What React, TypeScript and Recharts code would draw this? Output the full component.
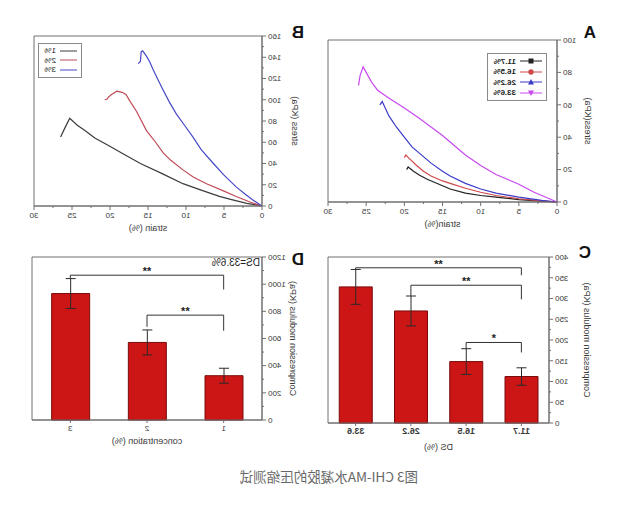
import React from 'react'
import {
  LineChart, Line, BarChart, Bar, ErrorBar, XAxis, YAxis, ReferenceLine, ReferenceArea, Legend,
} from 'recharts'

// the source figure is a horizontally mirrored image, so the whole sheet is flipped at the end
const FONT = '"Liberation Sans", Arial, sans-serif'
const AXIS = '#707070'
const TXT = '#3a3a3a'
const BAR = '#cc1616'
const BAR_EDGE = '#7a0a0a'

// ---- A: stress-strain, four DS values
const A_SERIES = ['11.7%', '16.5%', '26.2%', '33.6%']
const A_COLORS = ['#222222', '#d04848', '#3a3ac8', '#c848f0']
const A_117 = [
  { s: 0, p: 0 }, { s: 2, p: 0.6 }, { s: 5, p: 1.5 }, { s: 8, p: 3 }, { s: 10, p: 4 }, { s: 12, p: 5.5 },
  { s: 14, p: 8 }, { s: 15, p: 10 }, { s: 16, p: 12 }, { s: 17, p: 14 }, { s: 18, p: 16.5 },
  { s: 18.8, p: 19 }, { s: 19.5, p: 21.6 }, { s: 19.7, p: 20 },
]
const A_165 = [
  { s: 0, p: 0 }, { s: 2, p: 0.7 }, { s: 5, p: 2 }, { s: 8, p: 4 }, { s: 10, p: 6 }, { s: 12, p: 8.5 },
  { s: 14, p: 11.5 }, { s: 15, p: 13 }, { s: 16.5, p: 16 }, { s: 17.5, p: 19 }, { s: 18.5, p: 23 },
  { s: 19.5, p: 27.5 }, { s: 19.8, p: 29 }, { s: 20, p: 27.3 },
]
const A_262 = [
  { s: 0, p: 0 }, { s: 2, p: 1 }, { s: 5, p: 3 }, { s: 8, p: 5.5 }, { s: 10, p: 8 }, { s: 12, p: 11.5 },
  { s: 14, p: 16 }, { s: 15, p: 19 }, { s: 16.5, p: 24 }, { s: 18, p: 30 }, { s: 19, p: 34 },
  { s: 20, p: 40 }, { s: 21, p: 46 }, { s: 22, p: 53 }, { s: 22.9, p: 62 }, { s: 23.2, p: 60 },
]
const A_336 = [
  { s: 0, p: 0 }, { s: 1, p: 2 }, { s: 3, p: 6 }, { s: 5, p: 11 }, { s: 8, p: 17 }, { s: 10, p: 22.5 },
  { s: 12, p: 29 }, { s: 14, p: 37 }, { s: 15, p: 41 }, { s: 17, p: 48 }, { s: 18, p: 51.5 },
  { s: 20, p: 58 }, { s: 22, p: 64 }, { s: 23.5, p: 69 }, { s: 24.3, p: 74 }, { s: 25, p: 80 },
  { s: 25.4, p: 83.5 }, { s: 25.8, p: 78 }, { s: 26, p: 72 },
]
const A_DATA = [A_117, A_165, A_262, A_336]

// ---- B: stress-strain, three concentrations
const B_SERIES = ['1%', '2%', '3%']
const B_COLORS = ['#3c3c3c', '#c04a58', '#4848c8']
const B_1 = [
  { s: 0, p: 0 }, { s: 2, p: 2.5 }, { s: 4, p: 6 }, { s: 5.6, p: 9 }, { s: 8, p: 15 }, { s: 10.4, p: 21 },
  { s: 13, p: 30 }, { s: 16, p: 40 }, { s: 18, p: 48 }, { s: 20.2, p: 57 }, { s: 22, p: 64 },
  { s: 23.3, p: 71 }, { s: 24.3, p: 76 }, { s: 25.3, p: 82.5 }, { s: 25.9, p: 74 }, { s: 26.5, p: 65 },
]
const B_2 = [
  { s: 0, p: 0 }, { s: 1.5, p: 3.5 }, { s: 3.4, p: 9 }, { s: 5, p: 14 }, { s: 7.3, p: 21 }, { s: 9, p: 27 },
  { s: 10.4, p: 34 }, { s: 12, p: 43 }, { s: 13, p: 50 }, { s: 14, p: 60 }, { s: 15.2, p: 71 },
  { s: 16.5, p: 89 }, { s: 17.4, p: 99 }, { s: 17.9, p: 105 }, { s: 18.4, p: 107 }, { s: 19.1, p: 108 },
  { s: 19.8, p: 105 }, { s: 20.2, p: 102.5 }, { s: 20.4, p: 100.5 }, { s: 20.7, p: 100 },
]
const B_3 = [
  { s: 0, p: 0 }, { s: 1.2, p: 5.6 }, { s: 2.2, p: 11 }, { s: 3.4, p: 18 }, { s: 5, p: 29 }, { s: 6.4, p: 40 },
  { s: 8, p: 53 }, { s: 9.1, p: 65 }, { s: 10.2, p: 76 }, { s: 11.3, p: 87 }, { s: 12.2, p: 98 },
  { s: 13, p: 109 }, { s: 13.7, p: 119 }, { s: 14.3, p: 128 }, { s: 14.8, p: 136 }, { s: 15.2, p: 141 },
  { s: 15.7, p: 146 }, { s: 15.9, p: 145 }, { s: 16, p: 136 }, { s: 16.3, p: 134 },
]
const B_DATA = [B_1, B_2, B_3]

// ---- C: modulus vs DS
const C_DS = ['11.7', '16.5', '26.2', '33.6']
const C_MOD = [112, 148, 270, 328]
const C_ERR = [21, 31, 36, 42]
const C_SIG = [
  { from: '11.7', to: '33.6', y: 374, yFrom: 356, yTo: 370, mark: '**' },
  { from: '11.7', to: '26.2', y: 332, yFrom: 298, yTo: 306, mark: '**' },
  { from: '11.7', to: '16.5', y: 194, yFrom: 170, yTo: 178, mark: '*' },
]

// ---- D: modulus vs concentration
const D_CONC = ['1', '2', '3']
const D_MOD = [326, 571, 931]
const D_ERR = [55, 92, 110]
const D_SIG = [
  { from: '1', to: '3', y: 1066, yFrom: 961, yTo: 1042, mark: '**' },
  { from: '1', to: '2', y: 772, yFrom: 657, yTo: 686, mark: '**' },
]

// ticks (all = with minor ticks, labels = labelled majors)
const STRAIN_TICKS = [0, 2.5, 5, 7.5, 10, 12.5, 15, 17.5, 20, 22.5, 25, 27.5, 30]
const STRAIN_LABELS = [0, 5, 10, 15, 20, 25, 30]
const A_Y_TICKS = [0, 10, 20, 30, 40, 50, 60, 70, 80, 90, 100]
const A_Y_LABELS = [0, 20, 40, 60, 80, 100]
const B_Y_TICKS = [0, 10, 20, 30, 40, 50, 60, 70, 80, 90, 100, 110, 120, 130, 140, 150, 160]
const B_Y_LABELS = [0, 20, 40, 60, 80, 100, 120, 140, 160]
const C_Y_TICKS = [0, 25, 50, 75, 100, 125, 150, 175, 200, 225, 250, 275, 300, 325, 350, 375, 400]
const C_Y_LABELS = [0, 50, 100, 150, 200, 250, 300, 350, 400]
const D_Y_TICKS = [0, 100, 200, 300, 400, 500, 600, 700, 800, 900, 1000, 1100, 1200]
const D_Y_LABELS = [0, 200, 400, 600, 800, 1000, 1200]

const TICK = 4
const GAP = 2

function YTick(props: any) {
  const { x, y, payload, labels } = props
  const v = payload.value
  const major = labels.includes(v)
  const ax = x + TICK + GAP
  return (
    <g>
      <line x1={ax} x2={ax - (major ? TICK : TICK / 2)} y1={y} y2={y} stroke={AXIS} />
      {major && (
        <text x={x} y={y} dy="0.35em" textAnchor="end" fontSize={8} fontFamily={FONT} fill={TXT}>{v}</text>
      )}
    </g>
  )
}

function XTick(props: any) {
  const { x, y, payload, labels } = props
  const v = payload.value
  const major = labels.includes(v)
  const ay = y - TICK - GAP
  return (
    <g>
      <line x1={x} x2={x} y1={ay} y2={ay + (major ? TICK : TICK / 2)} stroke={AXIS} />
      {major && (
        <text x={x} y={y} dy="0.75em" textAnchor="middle" fontSize={8} fontFamily={FONT} fill={TXT}>{v}</text>
      )}
    </g>
  )
}

function Marker({ kind, color, cx }: { kind: string; color: string; cx: number }) {
  if (kind === 'square') return <rect x={cx - 2.5} y={1.5} width={5} height={5} fill={color} />
  if (kind === 'circle') return <circle cx={cx} cy={4} r={2.7} fill={color} />
  if (kind === 'up') return <polygon points={`${cx - 3},6.5 ${cx + 3},6.5 ${cx},1`} fill={color} />
  if (kind === 'down') return <polygon points={`${cx - 3},1.5 ${cx + 3},1.5 ${cx},7`} fill={color} />
  return null
}

function LegendBox({ payload, markers, lineW, rowH, bold }: any) {
  return (
    <div style={{ border: '1px solid #8a8a8a', background: '#fff', padding: '2px 5px 2px 4px', fontFamily: FONT, fontSize: 8 }}>
      {(payload ?? []).map((e: any, i: number) => (
        <div key={e.value} style={{ display: 'flex', alignItems: 'center', height: rowH }}>
          <svg width={lineW} height={8}>
            <line x1={0} x2={lineW} y1={4} y2={4} stroke={e.color} strokeWidth={1} />
            {markers && <Marker kind={markers[i]} color={e.color} cx={lineW / 2} />}
          </svg>
          <span style={{ marginLeft: 4, color: '#222', fontWeight: bold ? 'bold' : 'normal' }}>{e.value}</span>
        </div>
      ))}
    </div>
  )
}

function brackets(list: typeof C_SIG) {
  return list.flatMap((b, i) => [
    <ReferenceLine
      key={`h${i}`}
      segment={[{ x: b.from, y: b.y }, { x: b.to, y: b.y }]}
      stroke="#333"
      label={{ value: b.mark, position: 'top', offset: 0, fontSize: 11, fontWeight: 'bold', fill: '#222' }}
    />,
    <ReferenceLine key={`a${i}`} segment={[{ x: b.from, y: b.y }, { x: b.from, y: b.yFrom }]} stroke="#333" />,
    <ReferenceLine key={`b${i}`} segment={[{ x: b.to, y: b.y }, { x: b.to, y: b.yTo }]} stroke="#333" />,
  ])
}

const labelStyle = { fontSize: 9, fill: TXT, fontFamily: FONT }

function StrainChart({ data, names, colors, yTicks, yLabels, yMax, width, margin, yWidth, yLabel, yLabelX, xLabel, legend }: any) {
  return (
    <LineChart width={width} height={240} margin={margin}>
      {/* frame */}
      <ReferenceArea x1={0} x2={30} y1={0} y2={yMax} fill="none" stroke={AXIS} strokeWidth={1} fillOpacity={0} />
      <XAxis
        dataKey="s" type="number" domain={[0, 30]} ticks={STRAIN_TICKS} interval={0}
        stroke={AXIS} tickLine={false} tickSize={TICK} tickMargin={GAP} height={32}
        tick={(p: any) => <XTick {...p} labels={STRAIN_LABELS} />}
        label={{ value: xLabel, position: 'insideBottom', offset: 7, ...labelStyle }}
      />
      <YAxis
        type="number" domain={[0, yMax]} ticks={yTicks} interval={0} width={yWidth}
        stroke={AXIS} tickLine={false} tickSize={TICK} tickMargin={GAP}
        tick={(p: any) => <YTick {...p} labels={yLabels} />}
        label={{ value: yLabel, angle: -90, position: 'insideLeft', offset: yLabelX, style: { textAnchor: 'middle' }, ...labelStyle }}
      />
      {data.map((d: any, i: number) => (
        <Line
          key={names[i]} data={d} dataKey="p" name={names[i]} stroke={colors[i]} strokeWidth={1.2}
          dot={false} isAnimationActive={false}
        />
      ))}
      {legend}
    </LineChart>
  )
}

function ModulusChart({ rows, keyName, cats, sig, yTicks, yLabels, yMax, width, margin, yWidth, yLabelX, xLabel, xLabelOffset, barSize, tickBold }: any) {
  return (
    <BarChart width={width} height={240} data={rows} margin={margin}>
      <ReferenceArea x1={cats[0]} x2={cats[cats.length - 1]} y1={0} y2={yMax} fill="none" fillOpacity={0} stroke={AXIS} strokeWidth={1} />
      <XAxis
        dataKey={keyName} stroke={AXIS} tickSize={3} tickMargin={2} height={36} interval={0}
        tickLine={{ stroke: AXIS }}
        tick={{ fontSize: tickBold ? 9 : 8, fontWeight: tickBold ? 'bold' : 'normal', fill: TXT, fontFamily: FONT }}
        label={{ value: xLabel, position: 'insideBottom', offset: xLabelOffset, ...labelStyle }}
      />
      <YAxis
        type="number" domain={[0, yMax]} ticks={yTicks} interval={0} width={yWidth}
        stroke={AXIS} tickLine={false} tickSize={TICK} tickMargin={GAP}
        tick={(p: any) => <YTick {...p} labels={yLabels} />}
        label={{ value: 'Compression modulus (KPa)', angle: -90, position: 'insideLeft', offset: yLabelX, style: { textAnchor: 'middle' }, ...labelStyle }}
      />
      <Bar dataKey="mod" fill={BAR} stroke={BAR_EDGE} strokeWidth={1} barSize={barSize} isAnimationActive={false}>
        <ErrorBar dataKey="err" width={5} stroke="#2a2a2a" strokeWidth={1} isAnimationActive={false} />
      </Bar>
      {brackets(sig)}
    </BarChart>
  )
}

const panelLetter = (txt: string, left: number, top: number) => (
  <div style={{ position: 'absolute', left, top, fontFamily: FONT, fontWeight: 'bold', fontSize: 17, color: '#111' }}>{txt}</div>
)

export default function App() {
  const cRows = C_DS.map((ds, i) => ({ ds, mod: C_MOD[i], err: C_ERR[i] }))
  const dRows = D_CONC.map((c, i) => ({ c, mod: D_MOD[i], err: D_ERR[i] }))

  return (
    <div style={{
      position: 'absolute', left: 0, top: 0, width: 619, height: 509, background: '#fff',
      overflow: 'hidden', transform: 'scaleX(-1)', fontFamily: FONT,
    }}>
      {/* A */}
      <div style={{ position: 'absolute', left: 0, top: 0 }}>
        <StrainChart
          data={A_DATA} names={A_SERIES} colors={A_COLORS} yTicks={A_Y_TICKS} yLabels={A_Y_LABELS} yMax={100}
          width={300} margin={{ top: 40, right: 9, left: 0, bottom: 6 }} yWidth={62}
          yLabel="stress(KPa)" yLabelX={31} xLabel="strain(%)"
          legend={
            <Legend
              layout="vertical" align="center" verticalAlign="middle"
              wrapperStyle={{ left: 72, top: 53, width: 'auto', height: 'auto' }}
              content={(p: any) => <LegendBox payload={p.payload} markers={['square', 'circle', 'up', 'down']} lineW={22} rowH={10.5} bold />}
            />
          }
        />
      </div>
      {panelLetter('A', 23, 23)}

      {/* B */}
      <div style={{ position: 'absolute', left: 300, top: 0 }}>
        <StrainChart
          data={B_DATA} names={B_SERIES} colors={B_COLORS} yTicks={B_Y_TICKS} yLabels={B_Y_LABELS} yMax={160}
          width={319} margin={{ top: 36, right: 34, left: 0, bottom: 2 }} yWidth={57}
          yLabel="stress (KPa)" yLabelX={24} xLabel="strain (%)"
          legend={
            <Legend
              layout="vertical" align="center" verticalAlign="middle"
              wrapperStyle={{ left: 237, top: 43, width: 'auto', height: 'auto' }}
              content={(p: any) => <LegendBox payload={p.payload} lineW={17} rowH={9.5} />}
            />
          }
        />
      </div>
      {panelLetter('B', 315, 23)}

      {/* C */}
      <div style={{ position: 'absolute', left: 0, top: 240 }}>
        <ModulusChart
          rows={cRows} keyName="ds" cats={C_DS} sig={C_SIG} yTicks={C_Y_TICKS} yLabels={C_Y_LABELS} yMax={400}
          width={300} margin={{ top: 17, right: 9, left: 0, bottom: 21 }} yWidth={70} yLabelX={32}
          xLabel="DS (%)" xLabelOffset={9} barSize={33} tickBold
        />
      </div>
      {panelLetter('C', 28, 243)}

      {/* D */}
      <div style={{ position: 'absolute', left: 300, top: 240 }}>
        <ModulusChart
          rows={dRows} keyName="c" cats={D_CONC} sig={D_SIG} yTicks={D_Y_TICKS} yLabels={D_Y_LABELS} yMax={1200}
          width={319} margin={{ top: 17, right: 32, left: 0, bottom: 24 }} yWidth={57} yLabelX={26}
          xLabel="concentration (%)" xLabelOffset={12} barSize={38}
        />
      </div>
      <div style={{ position: 'absolute', left: 359, top: 257, fontSize: 10, color: '#222' }}>DS=33.6%</div>
      {panelLetter('D', 315, 250)}

      <div style={{
        position: 'absolute', left: 201, top: 466, fontSize: 13.5, color: '#666', whiteSpace: 'nowrap',
        fontFamily: '"Noto Sans CJK SC", "Noto Sans", sans-serif',
      }}>
        图3 CHI-MA水凝胶的压缩测试
      </div>
    </div>
  )
}
